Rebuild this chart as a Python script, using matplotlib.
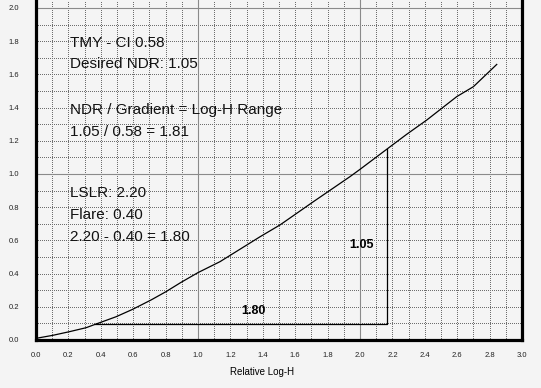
import matplotlib
matplotlib.use("Agg")
import matplotlib.pyplot as plt
from matplotlib.ticker import MultipleLocator, FixedLocator

plt.rcParams['font.family'] = ['Liberation Sans', 'DejaVu Sans']

# Characteristic curve (Relative Log-H vs density)
curve_x = [0.0, 0.103, 0.206, 0.309, 0.37, 0.494, 0.597, 0.71, 0.802, 0.895, 1.0,
           1.136, 1.383, 1.506, 1.712, 1.938, 2.0, 2.165, 2.288, 2.412, 2.597, 2.70, 2.844]
curve_y = [0.01, 0.028, 0.05, 0.074, 0.096, 0.14, 0.185, 0.241, 0.291, 0.347, 0.406,
           0.472, 0.622, 0.693, 0.833, 0.984, 1.028, 1.149, 1.239, 1.325, 1.466, 1.526, 1.66]

# Triangle (Log-H range / NDR)
flare_y = 0.097
tri_x_start = 0.365
tri_x_end = 2.165
tri_y_top = 1.149
label_range = "1.80"
label_ndr = "1.05"

x_ticks = [0.0, 0.2, 0.4, 0.6, 0.8, 1.0, 1.2, 1.4, 1.6, 1.8, 2.0, 2.2, 2.4, 2.6, 2.8, 3.0]
y_ticks = [0.0, 0.2, 0.4, 0.6, 0.8, 1.0, 1.2, 1.4, 1.6, 1.8, 2.0]
x_label = "Relative Log-H"

notes_top = ["TMY - CI 0.58", "Desired NDR: 1.05"]
notes_mid = ["NDR / Gradient = Log-H Range", "1.05 / 0.58 = 1.81"]
notes_bottom = ["LSLR: 2.20", "Flare: 0.40", "2.20 - 0.40 = 1.80"]

bg = '#f4f4f4'
fig = plt.figure(figsize=(5.41, 3.88), dpi=100, facecolor=bg)
ax = fig.add_axes([36/541, 1 - 340/388, 486/541, 340/388])
ax.set_facecolor(bg)
ax.set_xlim(0, 3.0)
ax.set_ylim(0, 340/166)

ax.xaxis.set_major_locator(FixedLocator(x_ticks))
ax.yaxis.set_major_locator(FixedLocator(y_ticks))
ax.xaxis.set_minor_locator(MultipleLocator(0.1))
ax.yaxis.set_minor_locator(MultipleLocator(0.1))
ax.set_xticklabels([f"{v:.1f}" for v in x_ticks], fontsize=5.5, color='#222222')
ax.set_yticklabels([f"{v:.1f}" for v in y_ticks], fontsize=5.5, color='#222222')
ax.tick_params(which='both', length=0)
ax.tick_params(axis='x', pad=8.5)
ax.tick_params(axis='y', pad=12)

ax.grid(which='both', color='#6e6e6e', linestyle=(0, (1, 2)), linewidth=0.72,
        antialiased=False)
ax.set_axisbelow(True)
for v in [1.0, 2.0]:
    ax.axhline(v, color='#8a8a8a', linewidth=0.8, zorder=1.5)
    ax.axvline(v, color='#8a8a8a', linewidth=0.8, zorder=1.5)

for s in ['left', 'bottom', 'right']:
    ax.spines[s].set_linewidth(2.3)
    ax.spines[s].set_color('black')
ax.spines['top'].set_visible(False)

ax.plot(curve_x, curve_y, color='black', linewidth=0.9, zorder=3)
ax.plot([tri_x_start, tri_x_end, tri_x_end], [flare_y, flare_y, tri_y_top],
        color='black', linewidth=0.9, zorder=3)

ax.text(1.34, 0.177, label_range, fontsize=9, fontweight='bold', ha='center', va='center')
ax.text(2.01, 0.572, label_ndr, fontsize=9, fontweight='bold', ha='center', va='center')

for i, t in enumerate(notes_top):
    fig.text(70/541, 1 - (43 + i * 21)/388, t, fontsize=11, ha='left', va='center', color='#111111')
for i, t in enumerate(notes_mid):
    fig.text(70/541, 1 - (110 + i * 22)/388, t, fontsize=11, ha='left', va='center', color='#111111')
for i, t in enumerate(notes_bottom):
    fig.text(70/541, 1 - (193 + i * 22)/388, t, fontsize=11, ha='left', va='center', color='#111111')

fig.text(262/541, 1 - 372/388, x_label, fontsize=7, ha='center', va='center')

fig.savefig('out.png', dpi=100, facecolor=bg)
